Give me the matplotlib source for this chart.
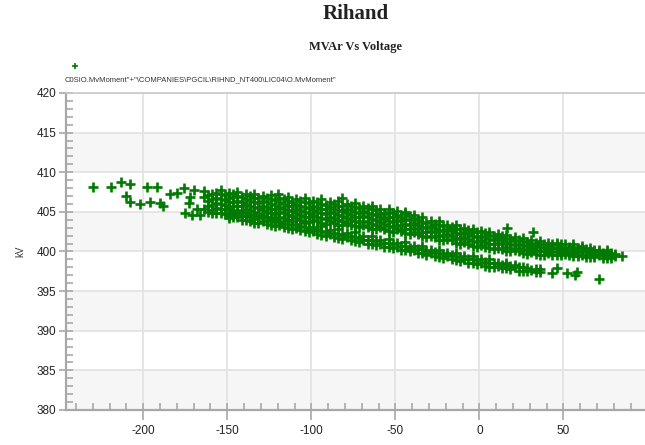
import matplotlib
matplotlib.use("Agg")
import matplotlib.pyplot as plt
from matplotlib.lines import Line2D
from matplotlib.ticker import MultipleLocator

plt.rcParams["axes.unicode_minus"] = False

# sparse readings at the high-voltage / absorbing end and stray points
sparse_mvar = [-230, -219, -213, -208, -198, -192, -210, -208, -202, -196, -190, -188,
               -184, -180, -176, -170, -172, -173, -175, -171, -166, -168,
               43, 46, 52, 57, 58, 71, 85, 16.5, 32, -82, -120]
sparse_kv = [408.2, 408.1, 408.8, 408.5, 408.1, 408.2, 407.0, 406.3, 406.0, 406.2, 406.1, 405.7,
             407.3, 407.4, 408.0, 407.8, 406.9, 406.1, 404.9, 404.6, 404.6, 405.3,
             397.3, 397.9, 397.3, 397.0, 397.4, 396.5, 399.4, 403.0, 402.5, 406.7, 407.3]

# upper trend: MVAr column -> kV readings
upper_mvar = [-164, -159, -154, -149, -144, -139, -134, -129, -124, -119, -114, -109,
              -104, -99, -94, -89, -84, -79, -74, -69, -64, -59, -54, -49, -44, -39,
              -34, -29, -24, -19, -14, -9, -4, 1, 6, 11, 16, 21, 26, 31, 36, 41, 46,
              51, 56, 61, 66, 71, 76, 81]
upper_kv = [
    [405.4, 406.9, 407.6],
    [404.8, 405.2, 405.9, 406.6, 407.3],
    [404.8, 405.4, 406.0, 406.6, 407.2, 407.7],
    [404.5, 405.0, 405.6, 406.2, 406.8, 407.4],
    [404.6, 405.2, 405.8, 406.4, 407.0, 407.5],
    [404.8, 405.4, 406.0, 406.6, 407.2],
    [404.4, 405.0, 405.6, 406.2, 406.8, 407.3],
    [404.6, 405.2, 405.8, 406.4, 407.0],
    [404.2, 404.8, 405.4, 406.0, 406.6, 407.1],
    [404.4, 405.0, 405.6, 406.2, 406.8],
    [404.0, 404.6, 405.2, 405.8, 406.4, 406.9],
    [404.2, 404.8, 405.4, 406.0, 406.6],
    [403.8, 404.4, 405.0, 405.6, 406.2, 406.8],
    [404.0, 404.6, 405.2, 405.8, 406.4],
    [403.6, 404.2, 404.8, 405.4, 406.0, 406.6],
    [403.8, 404.4, 405.0, 405.6, 406.2],
    [403.4, 404.0, 404.6, 405.2, 405.8, 406.4],
    [403.6, 404.2, 404.8, 405.4, 406.0],
    [403.2, 403.8, 404.4, 405.0, 405.6, 406.1],
    [403.3, 403.9, 404.5, 405.1, 405.7],
    [402.9, 403.5, 404.1, 404.7, 405.3, 405.8],
    [403.1, 403.7, 404.3, 404.9, 405.4],
    [402.6, 403.2, 403.8, 404.4, 405.0, 405.4],
    [402.8, 403.4, 404.0, 404.6, 405.1],
    [402.3, 402.9, 403.5, 404.1, 404.7, 405.0],
    [402.4, 403.0, 403.6, 404.2, 404.6],
    [401.9, 402.5, 403.1, 403.7, 404.3],
    [402.0, 402.6, 403.2, 403.8],
    [401.5, 402.1, 402.7, 403.3, 403.8],
    [401.6, 402.2, 402.8, 403.4],
    [401.1, 401.7, 402.3, 402.9, 403.3],
    [401.2, 401.8, 402.4, 403.0],
    [400.7, 401.3, 401.9, 402.5, 402.9],
    [400.8, 401.4, 402.0, 402.6],
    [400.4, 401.0, 401.6, 402.1, 402.5],
    [400.5, 401.1, 401.7, 402.2],
    [400.1, 400.6, 401.2, 401.7, 402.1],
    [400.2, 400.8, 401.3, 401.8],
    [399.8, 400.3, 400.8, 401.3, 401.7],
    [399.9, 400.4, 400.9, 401.4],
    [399.6, 400.1, 400.6, 401.0, 401.3],
    [399.8, 400.3, 400.7, 401.1],
    [399.5, 399.9, 400.4, 400.8, 401.1],
    [399.7, 400.1, 400.5, 400.9],
    [399.4, 399.8, 400.2, 400.6, 400.9],
    [399.6, 400.0, 400.4, 400.7],
    [399.3, 399.7, 400.1, 400.4],
    [399.5, 399.9, 400.2],
    [399.2, 399.6, 399.9, 400.2],
    [399.4, 399.7],
]

# upper trend, readings falling between the columns above
upper_mid_mvar = [-161.5, -156.5, -151.5, -146.5, -141.5, -136.5, -131.5, -126.5, -121.5,
                  -116.5, -111.5, -106.5, -101.5, -96.5, -91.5, -86.5, -81.5, -76.5,
                  -71.5, -66.5, -61.5, -56.5, -51.5, -46.5, -41.5, -36.5, -31.5, -26.5,
                  -21.5, -16.5, -11.5, -6.5, -1.5, 3.5, 8.5, 13.5, 18.5, 23.5, 28.5,
                  33.5, 38.5, 43.5, 48.5, 53.5, 58.5, 63.5, 68.5, 73.5, 78.5]
upper_mid_kv = [
    [405.0, 405.7, 406.4, 407.1],
    [404.9, 405.5, 406.1, 406.8, 407.4],
    [404.7, 405.3, 405.9, 406.5, 407.1],
    [404.6, 405.1, 405.7, 406.3, 406.9, 407.3],
    [404.5, 405.1, 405.7, 406.3, 406.9],
    [404.6, 405.2, 405.8, 406.4, 407.0],
    [404.3, 404.9, 405.5, 406.1, 406.7],
    [404.4, 405.0, 405.6, 406.2, 406.8],
    [404.1, 404.7, 405.3, 405.9, 406.5],
    [404.2, 404.8, 405.4, 406.0, 406.6],
    [403.9, 404.5, 405.1, 405.7, 406.3],
    [404.0, 404.6, 405.2, 405.8, 406.4],
    [403.7, 404.3, 404.9, 405.5, 406.1],
    [403.8, 404.4, 405.0, 405.6, 406.2],
    [403.5, 404.1, 404.7, 405.3, 405.9],
    [403.6, 404.2, 404.8, 405.4, 406.0],
    [403.3, 403.9, 404.5, 405.1, 405.7],
    [403.4, 404.0, 404.6, 405.2, 405.8],
    [403.1, 403.7, 404.3, 404.9, 405.5],
    [403.1, 403.7, 404.3, 404.9, 405.5],
    [402.8, 403.4, 404.0, 404.6, 405.2],
    [402.9, 403.5, 404.1, 404.7],
    [402.5, 403.1, 403.7, 404.3, 404.9],
    [402.6, 403.2, 403.8, 404.4],
    [402.2, 402.8, 403.4, 404.0, 404.5],
    [402.2, 402.8, 403.4, 404.0],
    [401.8, 402.4, 403.0, 403.6],
    [401.8, 402.4, 403.0, 403.5],
    [401.4, 402.0, 402.6, 403.2],
    [401.4, 402.0, 402.6, 403.1],
    [401.0, 401.6, 402.2, 402.8],
    [401.0, 401.6, 402.2, 402.7],
    [400.6, 401.2, 401.8, 402.4],
    [400.6, 401.2, 401.8, 402.3],
    [400.3, 400.9, 401.5, 402.0],
    [400.3, 400.9, 401.4, 401.9],
    [400.0, 400.5, 401.0, 401.6],
    [400.0, 400.5, 401.0, 401.5],
    [399.7, 400.2, 400.7, 401.2],
    [399.7, 400.2, 400.7, 401.1],
    [399.6, 400.0, 400.5, 400.9],
    [399.6, 400.0, 400.4, 400.9],
    [399.5, 399.8, 400.2, 400.6, 400.9],
    [399.5, 399.8, 400.2, 400.6],
    [399.4, 399.7, 400.1, 400.5],
    [399.3, 399.7, 400.0, 400.3],
    [399.3, 399.6, 399.9, 400.2],
    [399.2, 399.5, 399.8],
    [399.2, 399.5, 399.8],
]

# lower trend
lower_mvar = [-149, -144, -139, -134, -129, -124, -119, -114, -109, -104, -99, -94,
              -89, -84, -79, -74, -69, -64, -59, -54, -49, -44, -39, -34, -29, -24,
              -19, -14, -9, -4, 1, 6, 11, 16, 21, 26, 31, 36]
lower_kv = [
    [404.2, 404.8, 405.3], [404.3, 404.9], [404.0, 404.5, 405.0],
    [403.6, 404.1, 404.6], [403.8, 404.3], [403.4, 403.9, 404.4],
    [403.4, 403.9], [403.0, 403.5, 404.0], [403.0, 403.5],
    [402.6, 403.1, 403.6], [402.6, 403.1], [402.1, 402.6, 403.2],
    [402.2, 402.7], [401.7, 402.2, 402.8], [401.8, 402.3],
    [401.3, 401.8, 402.4], [401.4, 401.9], [401.0, 401.5, 402.0],
    [401.0, 401.5], [400.6, 401.1, 401.6], [400.6, 401.1],
    [400.2, 400.7, 401.2], [400.2, 400.7], [399.8, 400.3, 400.7],
    [399.8, 400.2], [399.3, 399.8, 400.2], [399.4, 399.8],
    [398.9, 399.4, 399.8], [399.0, 399.4], [398.5, 399.0, 399.4],
    [398.6, 399.0], [398.1, 398.6, 399.0], [398.2, 398.6],
    [397.9, 398.3, 398.6], [398.0, 398.3], [397.6, 398.0],
    [397.7], [397.4, 397.8],
]

lower_mid_mvar = [-146.5, -141.5, -136.5, -131.5, -126.5, -121.5, -116.5, -111.5, -106.5,
                  -101.5, -96.5, -91.5, -86.5, -81.5, -76.5, -71.5, -66.5, -61.5, -56.5,
                  -51.5, -46.5, -41.5, -36.5, -31.5, -26.5, -21.5, -16.5, -11.5, -6.5,
                  -1.5, 3.5, 8.5, 13.5, 18.5, 23.5, 28.5, 33.5]
lower_mid_kv = [
    [404.4, 404.9], [404.0, 404.5], [403.9, 404.4], [403.6, 404.2], [403.5, 404.0],
    [403.2, 403.7], [403.1, 403.6], [402.8, 403.3], [402.7, 403.2], [402.4, 402.9],
    [402.2, 402.8], [402.0, 402.5], [401.8, 402.3], [401.6, 402.1], [401.4, 401.9],
    [401.2, 401.7], [401.0, 401.5], [400.8, 401.3], [400.6, 401.1], [400.4, 400.9],
    [400.2, 400.7], [400.0, 400.5], [399.8, 400.3], [399.6, 400.1], [399.4, 399.9],
    [399.2, 399.7], [399.0, 399.5], [398.8, 399.3], [398.6, 399.1], [398.4, 398.9],
    [398.2, 398.7], [398.0, 398.5], [397.9, 398.3], [397.8, 398.2], [397.6, 398.0],
    [397.5, 397.9], [397.4, 397.8],
]

y_ticks = [380, 385, 390, 395, 400, 405, 410, 415, 420]
x_ticks = [-200, -150, -100, -50, 0, 50]
legend_text = 'C0SIO.MvMoment"+"\\COMPANIES\\PGCIL\\RIHND_NT400\\LIC04\\O.MvMoment"'


def flatten(cols, rows):
    xs, ys = [], []
    for x, row in zip(cols, rows):
        for y in row:
            xs.append(x)
            ys.append(y)
    return xs, ys


all_x, all_y = list(sparse_mvar), list(sparse_kv)
for cols, rows in [(upper_mvar, upper_kv), (upper_mid_mvar, upper_mid_kv),
                   (lower_mvar, lower_kv), (lower_mid_mvar, lower_mid_kv)]:
    xs, ys = flatten(cols, rows)
    all_x += xs
    all_y += ys

fig = plt.figure(figsize=(6.45, 4.45), dpi=100)
ax = fig.add_axes([66 / 645, 35 / 445, 1 - 66 / 645, 317 / 445])

green = "#007a00"
axis_grey = "#a8a8a8"

# alternating horizontal bands
for lo in range(380, 420, 10):
    ax.axhspan(lo, lo + 5, color="#f6f6f6", zorder=0, lw=0)
ax.grid(True, color="#e2e2e2", lw=1.2, zorder=0.5)
ax.set_axisbelow(True)

ax.plot(all_x, all_y, ls="none", marker="+", ms=7, mew=1.9, color=green, zorder=3)

ax.set_xlim(-246, 98.6)
ax.set_ylim(380, 420)
ax.set_xticks(x_ticks)
ax.set_yticks(y_ticks)
ax.xaxis.set_minor_locator(MultipleLocator(10))
ax.yaxis.set_minor_locator(MultipleLocator(1))
ax.xaxis.remove_overlapping_locs = False
ax.yaxis.remove_overlapping_locs = False

ax.tick_params(which="major", direction="out", length=5, width=1.2, color=axis_grey,
               labelsize=8.5, labelcolor="#222222", pad=2)
ax.tick_params(which="minor", direction="in", length=5, width=1.2, color=axis_grey)
ax.tick_params(axis="x", which="major", length=7, pad=4)

for side in ["left", "bottom"]:
    ax.spines[side].set_color(axis_grey)
    ax.spines[side].set_linewidth(1.6)
ax.spines["top"].set_color("#c8c8c8")
ax.spines["top"].set_linewidth(1.2)
ax.spines["right"].set_visible(False)

for lbl in ax.get_xticklabels() + ax.get_yticklabels():
    lbl.set_family(["Liberation Sans", "DejaVu Sans"])

ax.set_ylabel("kV", fontsize=7, family="Liberation Sans", color="#333333", labelpad=8)

cx = (66 + 645) / 2 / 645
fig.text(cx, 1 - 14 / 445, "Rihand", ha="center", va="center", fontsize=15,
         fontweight="bold", family="Liberation Serif", color="#222222")
fig.text(cx, 1 - 47 / 445, "MVAr Vs Voltage", ha="center", va="center", fontsize=9,
         fontweight="bold", family="Liberation Serif", color="#222222")

fig.add_artist(Line2D([75 / 645], [1 - 66 / 445], marker="+", ms=5, mew=1.2,
                      color=green, transform=fig.transFigure))
fig.text(65 / 645, 1 - 80 / 445, legend_text, ha="left", va="center", fontsize=5.5,
         family="Liberation Sans", color="#333333")

fig.savefig("out.png", dpi=100)
